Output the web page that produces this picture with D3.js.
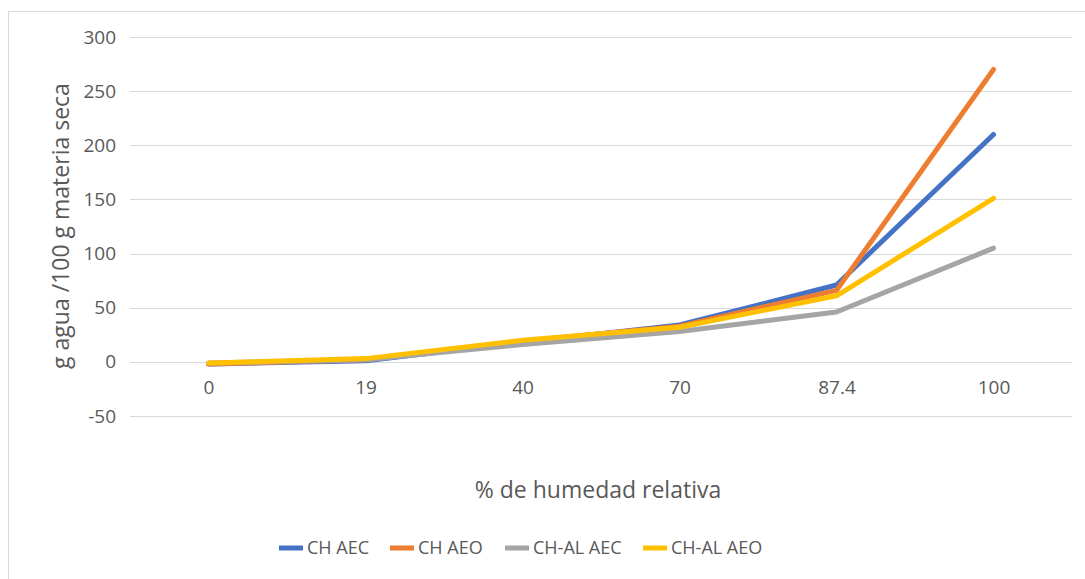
<!DOCTYPE html>
<html>
<head>
<meta charset="utf-8">
<script src="https://cdn.jsdelivr.net/npm/d3@7"></script>
<style>
  html, body { margin: 0; padding: 0; background: #fff; }
  svg { display: block; }
  text { font-family: "Open Sans", "Noto Sans", sans-serif; fill: #595959; }
</style>
</head>
<body>
<svg id="chart" width="1085" height="579"></svg>
<script>
// Relative humidity categories (evenly spaced on the axis)
const humidity = ["0", "19", "40", "70", "87.4", "100"];

// Water uptake, g water / 100 g dry matter
const chAEC   = [-2, 1, 18, 34, 71, 210];
const chAEO   = [-2, 2, 19, 33, 66, 270];
const chalAEC = [-1, 2, 16, 28, 46, 105];
const chalAEO = [-1, 3, 20, 32, 61, 151];

const seriesNames = ["CH AEC", "CH AEO", "CH-AL AEC", "CH-AL AEO"];
const seriesColors = ["#4472C4", "#ED7D31", "#A5A5A5", "#FFC000"];

const yTicks = [-50, 0, 50, 100, 150, 200, 250, 300];

const series = [chAEC, chAEO, chalAEC, chalAEO].map((values, i) => ({
  name: seriesNames[i], color: seriesColors[i], values
}));

const svg = d3.select("#chart");
const W = 1085, H = 579;

// chart area frame
svg.append("rect")
  .attr("x", 8.5).attr("y", 11.5)
  .attr("width", W + 10).attr("height", H + 10)
  .attr("fill", "#fff").attr("stroke", "#D9D9D9").attr("stroke-width", 1);

const plot = { left: 130, right: 1072, top: 37, bottom: 416 };

const x = d3.scalePoint()
  .domain(humidity)
  .range([plot.left, plot.right])
  .padding(0.5);

const y = d3.scaleLinear()
  .domain([-50, 300])
  .range([plot.bottom, plot.top]);

// horizontal gridlines
svg.append("g")
  .selectAll("line")
  .data(yTicks)
  .join("line")
  .attr("x1", plot.left).attr("x2", plot.right)
  .attr("y1", d => Math.round(y(d)) + 0.5).attr("y2", d => Math.round(y(d)) + 0.5)
  .attr("stroke", "#D9D9D9").attr("stroke-width", 1);

// y axis labels
const yAxis = d3.axisLeft(y).tickValues(yTicks).tickSize(0).tickPadding(0)
  .tickFormat(d => d < 0 ? "-" + Math.abs(d) : String(d));
svg.append("g")
  .attr("transform", `translate(${plot.left - 14},0)`)
  .call(yAxis)
  .call(g => g.select(".domain").remove())
  .call(g => g.selectAll("text")
    .attr("font-size", 19)
    .attr("font-family", "'Open Sans', sans-serif")
    .attr("fill", "#595959"));

// x axis labels, placed below the zero line
const xAxis = d3.axisBottom(x).tickSize(0).tickPadding(0);
svg.append("g")
  .attr("transform", `translate(0,${y(0) + 19})`)
  .call(xAxis)
  .call(g => g.select(".domain").remove())
  .call(g => g.selectAll("text")
    .attr("font-size", 19)
    .attr("font-family", "'Open Sans', sans-serif")
    .attr("fill", "#595959"));

// axis titles
svg.append("text")
  .attr("x", (plot.left + plot.right) / 2 - 3)
  .attr("y", 498)
  .attr("text-anchor", "middle")
  .attr("font-size", 23)
  .text("% de humedad relativa");

svg.append("text")
  .attr("transform", `translate(69,${226}) rotate(-90)`)
  .attr("text-anchor", "middle")
  .attr("font-size", 23)
  .text("g agua /100 g materia seca");

// lines
const line = d3.line()
  .x((d, i) => x(humidity[i]))
  .y(d => y(d));

svg.append("g")
  .selectAll("path")
  .data(series)
  .join("path")
  .attr("d", d => line(d.values))
  .attr("fill", "none")
  .attr("stroke", d => d.color)
  .attr("stroke-width", 5)
  .attr("stroke-linejoin", "round")
  .attr("stroke-linecap", "round");

// legend
const legendX = [279, 390, 505, 643];
const legend = svg.append("g");
series.forEach((s, i) => {
  const g = legend.append("g").attr("transform", `translate(${legendX[i]},548)`);
  g.append("line")
    .attr("x1", 0).attr("x2", 24).attr("y1", 0).attr("y2", 0)
    .attr("stroke", s.color).attr("stroke-width", 5);
  g.append("text")
    .attr("x", 28).attr("y", 0).attr("dy", "0.35em")
    .attr("font-size", 18)
    .text(s.name);
});
</script>
</body>
</html>
